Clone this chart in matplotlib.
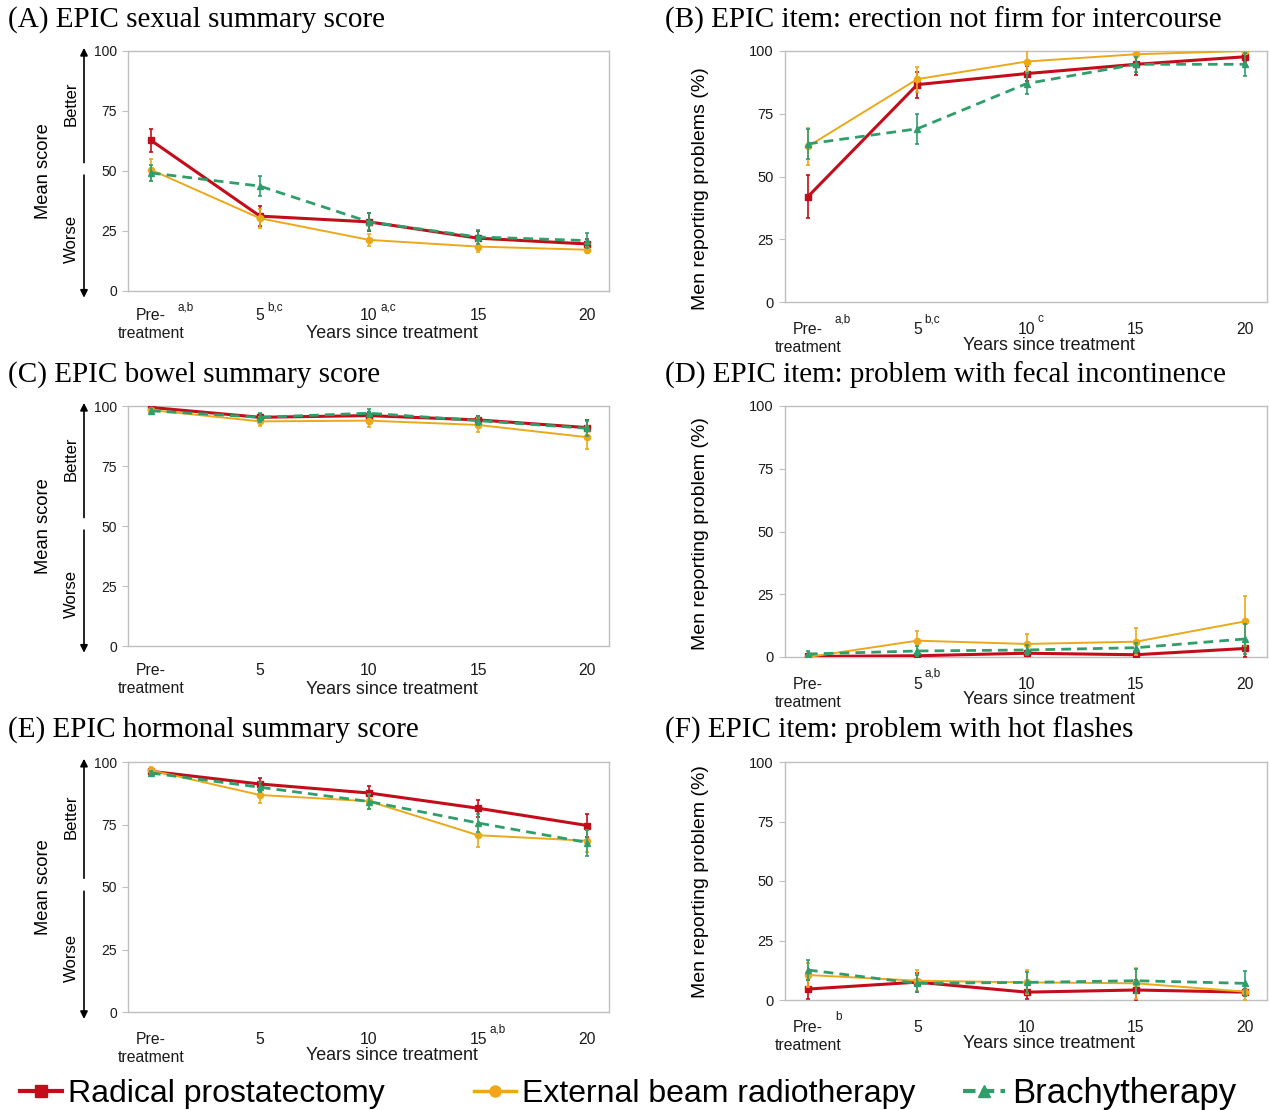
import matplotlib.pyplot as plt
from matplotlib.lines import Line2D
import numpy as np

years = ["Pre-\ntreatment", "5", "10", "15", "20"]
groups = ["Radical prostatectomy", "External beam radiotherapy", "Brachytherapy"]

# (A) EPIC sexual summary score
a_rp = [62.8, 31.2, 28.8, 22.0, 19.6]
a_rp_err = [4.8, 4.3, 3.8, 2.8, 2.0]
a_ebrt = [50.5, 30.3, 21.3, 18.5, 17.2]
a_ebrt_err = [4.5, 4.0, 2.5, 2.3, 1.2]
a_br = [49.2, 43.7, 28.8, 22.5, 21.0]
a_br_err = [3.5, 4.2, 3.5, 3.0, 3.0]

# (B) erection not firm for intercourse
b_rp = [42.0, 86.6, 91.0, 94.7, 97.7]
b_rp_err = [8.5, 5.2, 3.0, 4.2, 2.0]
b_ebrt = [62.0, 88.8, 95.8, 98.7, 100.0]
b_ebrt_err = [7.5, 5.0, 4.2, 1.5, 1.0]
b_br = [63.0, 69.0, 87.0, 94.7, 94.7]
b_br_err = [6.0, 6.0, 4.2, 3.0, 4.6]

# (C) EPIC bowel summary score
c_rp = [99.4, 95.3, 96.0, 94.2, 91.0]
c_rp_err = [1.0, 1.5, 1.5, 1.5, 3.2]
c_ebrt = [98.3, 93.6, 93.9, 92.1, 87.0]
c_ebrt_err = [1.0, 2.0, 2.6, 3.0, 4.8]
c_br = [98.0, 95.3, 97.0, 93.9, 90.7]
c_br_err = [1.0, 1.8, 1.6, 1.8, 3.0]

# (D) problem with fecal incontinence
d_rp = [0.2, 0.5, 1.5, 0.9, 3.4]
d_rp_err = [0.3, 0.6, 1.0, 0.6, 3.5]
d_ebrt = [0.0, 6.5, 5.2, 6.1, 14.2]
d_ebrt_err = [0.0, 4.0, 4.0, 5.3, 10.0]
d_br = [1.2, 2.4, 2.8, 3.7, 7.2]
d_br_err = [1.0, 2.0, 2.0, 2.0, 6.0]

# (E) EPIC hormonal summary score
e_rp = [96.3, 91.2, 87.6, 81.5, 74.6]
e_rp_err = [1.5, 2.6, 3.0, 3.5, 4.5]
e_ebrt = [96.7, 86.8, 84.3, 70.7, 68.5]
e_ebrt_err = [1.5, 3.0, 3.0, 4.5, 4.5]
e_br = [95.6, 89.9, 84.2, 75.6, 67.8]
e_br_err = [1.0, 2.0, 3.0, 3.5, 5.2]

# (F) problem with hot flashes
f_rp = [4.6, 7.5, 3.3, 4.2, 3.3]
f_rp_err = [4.0, 4.0, 3.0, 4.0, 1.5]
f_ebrt = [10.5, 8.1, 7.4, 7.0, 3.5]
f_ebrt_err = [5.0, 4.5, 5.0, 6.5, 3.5]
f_br = [12.6, 7.0, 7.4, 8.1, 7.0]
f_br_err = [4.3, 3.5, 4.5, 5.0, 5.3]

titles = ["(A) EPIC sexual summary score",
          "(B) EPIC item: erection not firm for intercourse",
          "(C) EPIC bowel summary score",
          "(D) EPIC item: problem with fecal incontinence",
          "(E) EPIC hormonal summary score",
          "(F) EPIC item: problem with hot flashes"]
ylabels = ["Mean score", "Men reporting problems (%)", "Mean score",
           "Men reporting problem (%)", "Mean score", "Men reporting problem (%)"]
# significance superscripts: (tick index, text)
superscripts = [[(0, "a,b"), (1, "b,c"), (2, "a,c")],
                [(0, "a,b"), (1, "b,c"), (2, "c")],
                [],
                [(1, "a,b")],
                [(3, "a,b")],
                [(0, "b")]]

data = [
    (a_rp, a_rp_err, a_ebrt, a_ebrt_err, a_br, a_br_err),
    (b_rp, b_rp_err, b_ebrt, b_ebrt_err, b_br, b_br_err),
    (c_rp, c_rp_err, c_ebrt, c_ebrt_err, c_br, c_br_err),
    (d_rp, d_rp_err, d_ebrt, d_ebrt_err, d_br, d_br_err),
    (e_rp, e_rp_err, e_ebrt, e_ebrt_err, e_br, e_br_err),
    (f_rp, f_rp_err, f_ebrt, f_ebrt_err, f_br, f_br_err),
]

RED = '#C40D1A'
YEL = '#EBA91A'
GRN = '#2E9E6B'
GRID = '#bfbfbf'
TXT = '#1a1a1a'
SANS = 'Liberation Sans'
SERIF = 'Liberation Serif'

W, H = 1270, 1110
fig = plt.figure(figsize=(W / 100, H / 100), dpi=100)

# pixel boxes: left, top, right, bottom
boxes = [(128, 51, 609, 291), (785, 51, 1267, 302),
         (128, 406, 609, 646), (785, 406, 1267, 657),
         (128, 762, 609, 1012), (785, 762, 1267, 1000)]
title_y = [20, 20, 375, 375, 730, 730]
title_x = [8, 665, 8, 665, 8, 665]
ylab_y = [0.5, 0.45, 0.5, 0.49, 0.5, 0.496]

x = np.arange(len(years))
top_lines = [y.split("\n")[0] for y in years]

for k, (l, t, r, b) in enumerate(boxes):
    ax = fig.add_axes([l / W, 1 - b / H, (r - l) / W, (b - t) / H])
    rp, rp_e, eb, eb_e, br, br_e = data[k]
    left_panel = (k % 2 == 0)

    ax.errorbar(x, rp, yerr=rp_e, color=RED, lw=2.2, marker='s', ms=5,
                capsize=1.5, elinewidth=1.2, capthick=1.2, zorder=3)
    ax.errorbar(x, eb, yerr=eb_e, color=YEL, lw=1.4, marker='o', ms=4.5,
                capsize=1.5, elinewidth=1.2, capthick=1.2, zorder=4)
    ax.errorbar(x, br, yerr=br_e, color=GRN, lw=2.0, marker='^', ms=4,
                capsize=1.5, elinewidth=1.2, capthick=1.2, dashes=(3.5, 2.2), zorder=5)

    ax.set_xlim(-0.21, 4.2)
    ax.set_ylim(0, 100)
    ax.set_yticks([0, 25, 50, 75, 100])
    # first line of each category as major label, "treatment" as a minor label
    ax.xaxis.remove_overlapping_locs = False
    ax.set_xticks(x)
    ax.set_xticklabels(top_lines, fontsize=11.3, family=SANS)
    ax.set_xticks([0], minor=True)
    ax.set_xticklabels([years[0].split("\n")[1]], minor=True, fontsize=11.3, family=SANS)
    for s in ax.spines.values():
        s.set_color(GRID)
        s.set_linewidth(1)
    ylab = 10 if left_panel else 10.5
    ax.tick_params(axis='y', length=4, color=GRID, labelsize=ylab, pad=4,
                   labelcolor=TXT)
    for lab in ax.get_yticklabels():
        lab.set_family(SANS)

    ph = b - t
    pad = 12 if k in (0, 2) else 14.5
    ax.tick_params(axis='x', which='major', length=0, pad=pad, labelcolor=TXT)
    ax.tick_params(axis='x', which='minor', length=0, pad=pad + 13, labelcolor=TXT)

    ax.set_xlabel("Years since treatment", fontsize=12.9, family=SANS, color=TXT)
    ax.xaxis.set_label_coords(0.548, -43 / ph)
    ax.xaxis.label.set_verticalalignment('center')

    # superscripts next to tick labels
    for idx, txt in superscripts[k]:
        off = 27 if idx == 0 else 4 * len(years[idx]) + 3
        ax.annotate(txt, xy=(idx, -17 / ph), xycoords=('data', 'axes fraction'),
                    xytext=(off * 0.72, 0), textcoords='offset points',
                    ha='left', va='center', fontsize=8.5, family=SANS,
                    color=TXT, annotation_clip=False)

    if left_panel:
        ax.text(-0.175, 0.5, ylabels[k], transform=ax.transAxes, rotation=90,
                ha='center', va='center', fontsize=13.2, family=SANS)
        ax.text(-0.1185, 0.78, "Better", transform=ax.transAxes, rotation=90,
                ha='center', va='center', fontsize=12, family=SANS)
        ax.text(-0.1185, 0.215, "Worse", transform=ax.transAxes, rotation=90,
                ha='center', va='center', fontsize=12, family=SANS)
        ax.annotate('', xy=(-0.0915, 1.013), xytext=(-0.0915, 0.535),
                    xycoords='axes fraction', annotation_clip=False,
                    arrowprops=dict(arrowstyle='-|>', color='black', lw=1.2,
                                    mutation_scale=11, shrinkA=0, shrinkB=0))
        ax.annotate('', xy=(-0.0915, -0.028), xytext=(-0.0915, 0.483),
                    xycoords='axes fraction', annotation_clip=False,
                    arrowprops=dict(arrowstyle='-|>', color='black', lw=1.2,
                                    mutation_scale=11, shrinkA=0, shrinkB=0))
    else:
        ax.text(-0.176, ylab_y[k], ylabels[k], transform=ax.transAxes, rotation=90,
                ha='center', va='center', fontsize=14, family=SANS)

    fig.text(title_x[k] / W, 1 - title_y[k] / H, titles[k], ha='left', va='center',
             fontsize=21, family=SERIF)

# legend: three separate entries along the bottom
handles = [Line2D([], [], color=RED, lw=3, marker='s', ms=8),
           Line2D([], [], color=YEL, lw=2.5, marker='o', ms=8),
           Line2D([], [], color=GRN, lw=3, marker='^', ms=8, dashes=(3, 1.5))]
leg_x = [20, 474, 963]
leg_size = [23, 23, 25]
for h, name, lx, fs in zip(handles, groups, leg_x, leg_size):
    fig.legend(handles=[h], labels=[name], loc='center left',
               bbox_to_anchor=(lx / W, 1 - 1094 / H), frameon=False,
               prop={'family': SANS, 'size': fs}, handlelength=42 / (fs * 1.389),
               handletextpad=0.2, borderpad=0, borderaxespad=0)

fig.savefig('out.png', dpi=100)
